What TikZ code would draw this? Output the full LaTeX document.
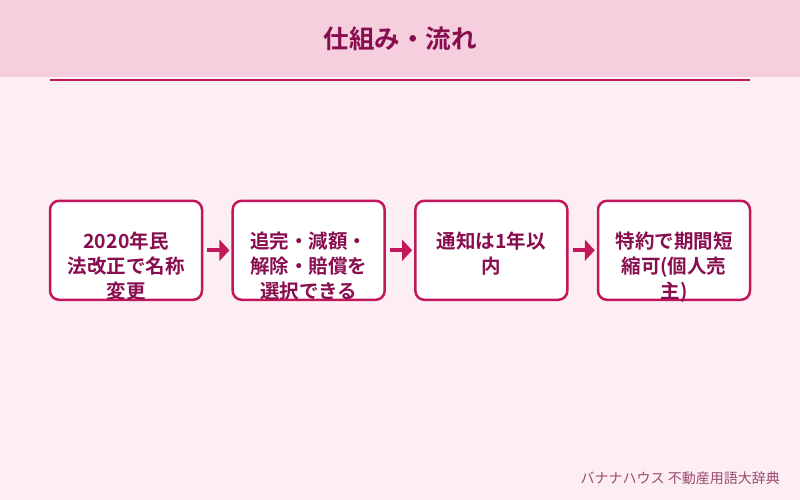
\documentclass[tikz,border=0pt]{standalone}
\usepackage{fontspec}
\setmainfont{Noto Sans CJK JP}[BoldFont={Noto Sans CJK JP Bold}]
\usetikzlibrary{arrows.meta}
\definecolor{bgpink}{HTML}{FDEEF4}
\definecolor{headpink}{HTML}{F6CFDE}
\definecolor{accent}{HTML}{C2185B}
\definecolor{darktext}{HTML}{880E4F}
\definecolor{foottext}{HTML}{9A4A6C}
\tikzset{
  stepbox/.style={draw=accent, fill=white, line width=2.5pt, rounded corners=9pt,
    minimum width=152pt, minimum height=99pt, inner sep=0pt},
  steptext/.style={text=darktext, font=\bfseries\fontsize{19.5}{25}\selectfont,
    align=center, anchor=north, inner sep=0pt},
  flowarrow/.style={draw=accent, line width=4.2pt, -{Triangle[length=10pt,width=21pt]}},
}
\begin{document}
\begin{tikzpicture}[x=1pt,y=-1pt]
\useasboundingbox (0,0) rectangle (800,500);
\fill[bgpink] (0,0) rectangle (800,500);
\fill[headpink] (0,0) rectangle (800,77.5);
\draw[accent, line width=2pt] (50,80) coordinate (hl) -- (750,80) coordinate (hr);
\node[text=darktext, font=\bfseries\fontsize{25.5}{30}\selectfont, inner sep=0pt] (title) at (400,38.5) {仕組み・流れ};

\node[stepbox] (b1) at (126,250.3) {};
\node[stepbox] (b2) at (308.67,250.3) {};
\node[stepbox] (b3) at (491.33,250.3) {};
\node[stepbox] (b4) at (674,250.3) {};

\node[steptext] (t1) at (126,230.5) {\strut 2020年民\\法改正で名称\\変更};
\node[steptext] (t2) at (308.67,230.5) {\strut 追完・減額・\\解除・賠償を\\選択できる};
\node[steptext] (t3) at (491.33,230.5) {\strut 通知は1年以\\内};
\node[steptext] (t4) at (674,230.5) {\strut 特約で期間短\\縮可(個人売\\主)};

\draw[flowarrow] ([xshift=4pt]b1.east) -- ([xshift=-2pt]b2.west);
\draw[flowarrow] ([xshift=4pt]b2.east) -- ([xshift=-2pt]b3.west);
\draw[flowarrow] ([xshift=4pt]b3.east) -- ([xshift=-2pt]b4.west);

\node[text=foottext, font=\fontsize{14}{16}\selectfont, anchor=east, inner sep=0pt] (foot) at (780,478) {バナナハウス 不動産用語大辞典};
\end{tikzpicture}
\end{document}
